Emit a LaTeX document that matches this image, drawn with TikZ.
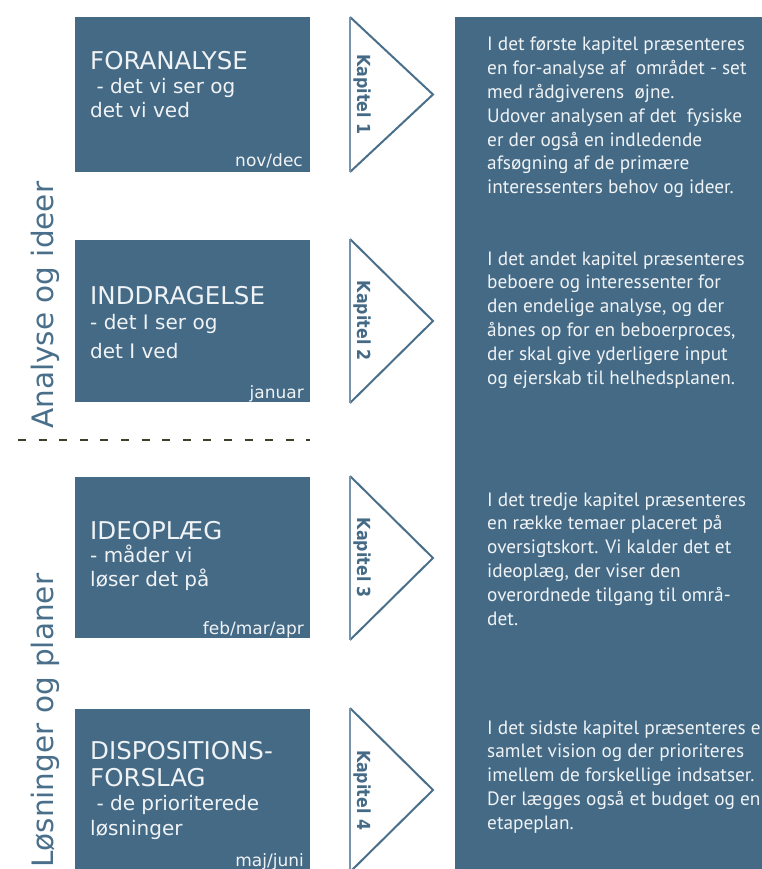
\documentclass[tikz,border=0pt]{standalone}
\usepackage{fontspec}
\newfontfamily\boxfont{DejaVu Sans}
\newfontfamily\parfont{PT Sans}
\definecolor{boxblue}{RGB}{68,106,134}
\definecolor{triblue}{RGB}{74,111,138}
\definecolor{trilight}{RGB}{120,148,170}
\definecolor{lbltext}{RGB}{74,111,138}
\definecolor{boxtext}{RGB}{240,243,245}
\definecolor{dashcol}{RGB}{55,66,40}
\tikzset{
  boxst/.style={fill=boxblue, draw=none, anchor=north west, inner sep=0pt, minimum width=235, minimum height=#1},
  panelst/.style={fill=boxblue, draw=none, anchor=north west, inner sep=0pt, minimum width=320, minimum height=870},
  tri/.style={draw=triblue, line width=2pt, fill=white, line join=miter},
  triedge/.style={draw=trilight, line width=2pt},
  ttl/.style={anchor=base west, inner sep=0pt, text=boxtext, font=\boxfont\fontsize{24.5}{27}\selectfont},
  sub/.style={anchor=base west, inner sep=0pt, text=boxtext, font=\boxfont\fontsize{20}{24}\selectfont},
  mon/.style={anchor=base east, inner sep=0pt, text=boxtext, font=\boxfont\fontsize{17}{20}\selectfont},
  kap/.style={inner sep=0pt, rotate=-90, text=boxblue, font=\boxfont\bfseries\fontsize{18}{20}\selectfont},
  side/.style={anchor=base west, inner sep=0pt, rotate=90, text=lbltext, font=\boxfont\fontsize{29.5}{32}\selectfont},
  par/.style={anchor=base west, inner sep=0pt, text=boxtext, font=\parfont\fontsize{19.3}{23.8}\selectfont},
}
\begin{document}
\begin{tikzpicture}[x=1pt, y=-1pt]
\useasboundingbox (0,0) rectangle (761,869);
% right panel
\node[panelst] (rp) at (455,17) {};
% boxes
\node[boxst=155] (b1) at (75,17) {};
\node[boxst=162] (b2) at (75,240) {};
\node[boxst=161] (b3) at (75,477) {};
\node[boxst=165] (b4) at (75,709) {};
% triangles
\draw[tri] (350,17) -- (433,94.5) -- (350,172);
\draw[triedge] (350,17) -- (350,172);
\draw[tri] (350,239) -- (433,321) -- (350,403);
\draw[triedge] (350,239) -- (350,403);
\draw[tri] (350,476) -- (433,558) -- (350,640);
\draw[triedge] (350,476) -- (350,640);
\draw[tri] (350,708) -- (433,790) -- (350,872);
\draw[triedge] (350,708) -- (350,872);
\node[kap] (k1) at (362,94.5) {\scalebox{0.88}[1]{Kapitel 1}};
\node[kap] (k2) at (362,321) {\scalebox{0.88}[1]{Kapitel 2}};
\node[kap] (k3) at (362,558) {\scalebox{0.88}[1]{Kapitel 3}};
\node[kap] (k4) at (362,790) {\scalebox{0.88}[1]{Kapitel 4}};
% box texts
\node[ttl] (t1) at (90,70) {FORANALYSE};
\node[sub] (s1) at (90,94) {\vtop{\hbox{\ - det vi ser og}\hbox{det vi ved}}};
\node[mon] (m1) at (303,167) {nov/dec};
\node[ttl] (t2) at (90,304) {INDDRAGELSE};
\node[sub] (s2) at (90,329) {\vtop{\baselineskip=29pt\hbox{- det I ser og}\hbox{det I ved}}};
\node[mon] (m2) at (304,398) {januar};
\node[ttl] (t3) at (90,539) {IDEOPLÆG};
\node[sub] (s3) at (90,562) {\vtop{\hbox{- måder vi}\hbox{løser det på}}};
\node[mon] (m3) at (304,634) {feb/mar/apr};
\node[ttl] (t4) at (90,759) {\vtop{\hbox{DISPOSITIONS-}\hbox{FORSLAG}}};
\node[sub] (s4) at (90,810) {\vtop{\baselineskip=25pt\hbox{\ - de prioriterede}\hbox{løsninger}}};
\node[mon] (m4) at (304,866) {maj/juni};
% side labels
\node[side] (l1) at (53,429) {Analyse og ideer};
\node[side] (l2) at (53,868) {Løsninger og planer};
\draw[dashcol, line width=2pt, dash pattern=on 8pt off 12.6pt] (18,440) -- (310,440);
% paragraphs
\node[par] (p1) at (487,51) {\vtop{\hbox{I det første kapitel præsenteres}\hbox{en for-analyse af\ \ området - set}\hbox{med rådgiverens\ \ øjne.}\hbox{Udover analysen af det\ \ fysiske}\hbox{er der også en indledende}\hbox{afsøgning af de primære}\hbox{interessenters behov og ideer.}}};
\node[par] (p2) at (487,265) {\vtop{\hbox{I det andet kapitel præsenteres}\hbox{beboere og interessenter for}\hbox{den endelige analyse, og der}\hbox{åbnes op for en beboerproces,}\hbox{der skal give yderligere input}\hbox{og ejerskab til helhedsplanen.}}};
\node[par] (p3) at (487,506) {\vtop{\hbox{I det tredje kapitel præsenteres}\hbox{en række temaer placeret på}\hbox{oversigtskort. Vi kalder det et}\hbox{ideoplæg, der viser den}\hbox{overordnede tilgang til områ-}\hbox{det.}}};
\node[par] (p4) at (487,734) {\vtop{\hbox{I det sidste kapitel præsenteres en}\hbox{samlet vision og der prioriteres}\hbox{imellem de forskellige indsatser.}\hbox{Der lægges også et budget og en}\hbox{etapeplan.}}};
\end{tikzpicture}
\end{document}
